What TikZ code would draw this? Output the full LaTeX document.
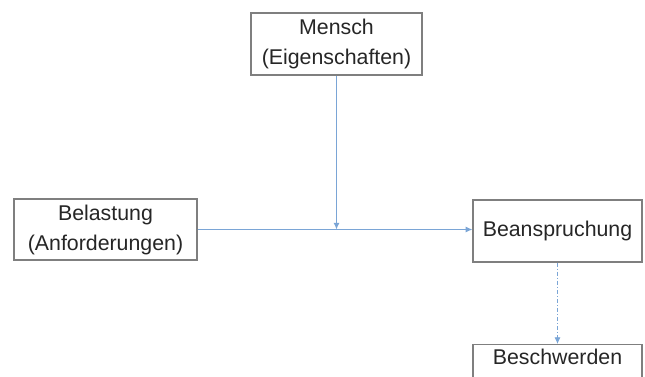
\documentclass[tikz,border=0pt]{standalone}
\usepackage{fontspec}
\setmainfont{Liberation Sans}
\usepackage{xcolor}
\usepackage{tikz}
\usetikzlibrary{arrows.meta, positioning}
\definecolor{boxgray}{HTML}{7F7F7F}
\definecolor{txtgray}{HTML}{262626}
\definecolor{linkblue}{HTML}{7AA5D6}
\tikzstyle{factor} = [draw=boxgray, line width=0.9pt, fill=white, text=txtgray, align=center, font=\fontsize{16}{22.5}\selectfont, inner sep=0pt]
\tikzstyle{link} = [draw=linkblue, line width=0.75pt, -{Latex[length=5pt,width=4.5pt]}]

\begin{document}
\begin{tikzpicture}[x=0.75pt, y=-0.75pt]
        \useasboundingbox (0,0) rectangle (645,376);
        % boxes
        \node[factor, minimum width=128.25pt, minimum height=46.5pt] (mensch) at (336.5,44) {Mensch\\(Eigenschaften)};
        \node[factor, minimum width=137.25pt, minimum height=45.75pt] (belastung) at (105.5,229.5) {Belastung\\(Anforderungen)};
        \node[factor, minimum width=126.75pt, minimum height=46.5pt] (beanspruchung) at (557.5,231) {Beanspruchung};
        % last box runs out of the picture
        \node[factor, minimum width=126.75pt, minimum height=46.5pt, anchor=north] (beschwerden) at (557.5,344) {};
        \node[text=txtgray, font=\fontsize{16}{22.5}\selectfont, anchor=north, inner sep=0pt] (beschwerdentext) at (557.5,348.5) {Beschwerden};
        % connectors
        \coordinate (meet) at (mensch.south |- belastung.east);
        \draw[link] (belastung.east) -- (belastung.east -| beanspruchung.west);
        \draw[link] (mensch.south) -- (meet);
        \draw[link, dash pattern=on 3pt off 1.5pt on 0.8pt off 1.5pt, line width=0.6pt] (beanspruchung.south) -- (beschwerden.north);
    \end{tikzpicture}
\end{document}
